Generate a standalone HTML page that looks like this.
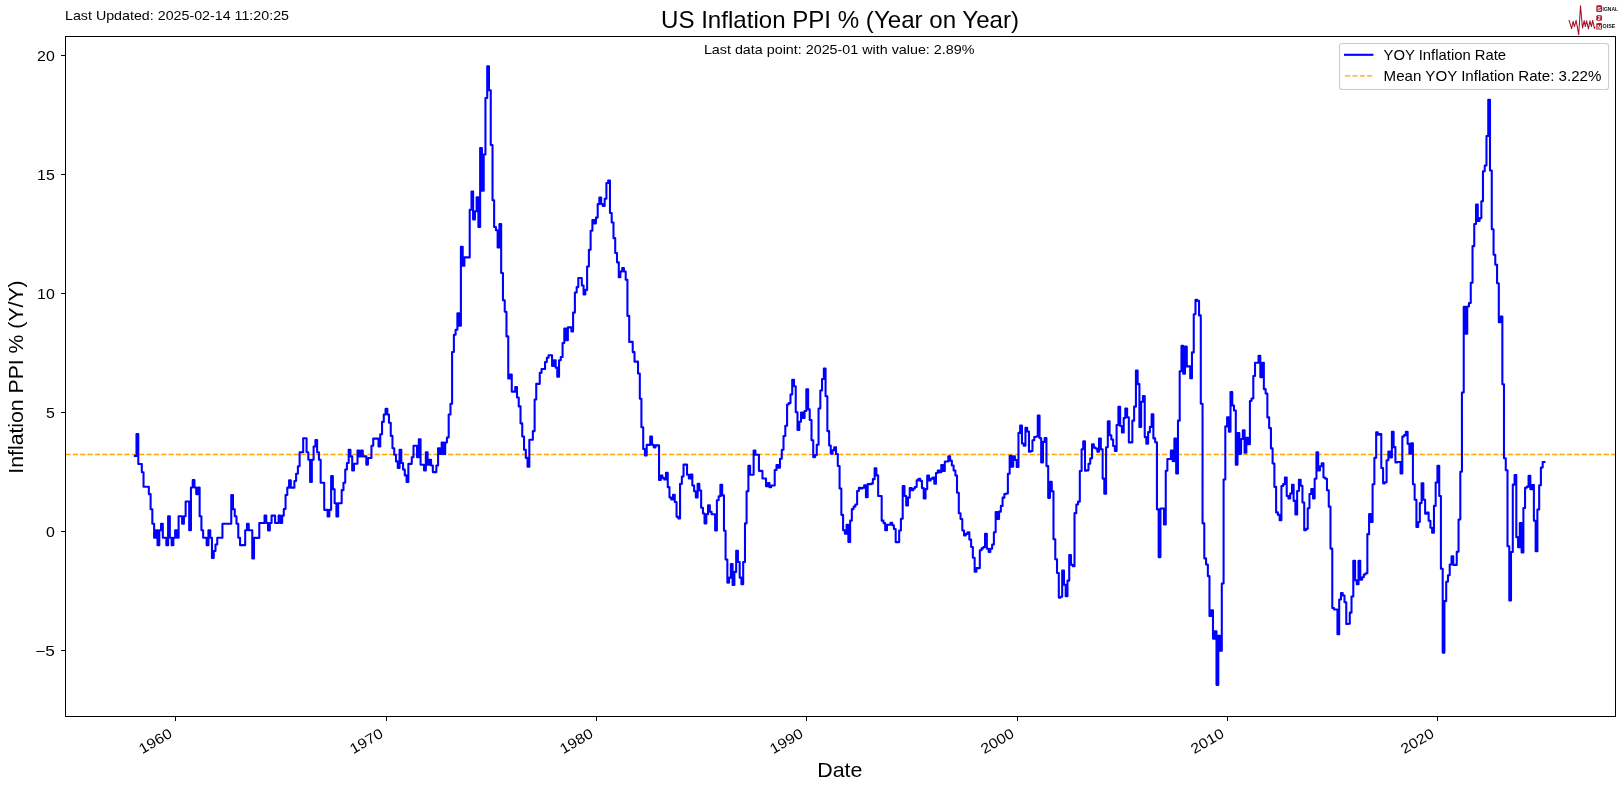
<!DOCTYPE html>
<html><head><meta charset="utf-8"><title>US Inflation PPI</title>
<style>
html,body{margin:0;padding:0;background:#fff;}
body{width:1624px;height:790px;overflow:hidden;font-family:"Liberation Sans",sans-serif;}
svg{display:block}
text{font-family:"Liberation Sans",sans-serif;fill:#000}
</style></head><body>
<div style="will-change:transform;width:1624px;height:790px"><svg width="1624" height="790" viewBox="0 0 1624 790">
<rect x="0" y="0" width="1624" height="790" fill="#fff"/>
<line x1="65.5" y1="454.50" x2="1615.5" y2="454.50" stroke="#ffa500" stroke-width="1.39" stroke-dasharray="5.14 2.22"/>
<clipPath id="ax"><rect x="66" y="37" width="1549" height="679"/></clipPath>
<path clip-path="url(#ax)" d="M134.89 455.94H136.50V434.05H138.29V464.00H140.01H141.80V472.23H143.53V486.71H145.31H147.10H148.83V494.11H150.61V509.25H152.34V523.73H154.13V537.72H155.91V530.32H157.52V545.13H159.31V530.32H161.04V523.73H162.82V537.72H164.55H166.34V545.13H168.12V516.33H169.85V537.72H171.64V545.13H173.36V537.72H175.15V530.32H176.94V537.72H178.61V516.33H180.39H182.12V523.73H183.91V516.33H185.63V501.52H187.42H189.20V530.32H190.93V487.53H192.72V480.13H194.45V487.53H196.23V494.11H198.02V487.53H199.63V516.33H201.42V530.32H203.14V537.72H204.93H206.66V545.13H208.44V530.32H210.23V537.72H211.96V557.96H213.74V551.05H215.47V544.47H217.26V537.72H219.04H220.65H222.44V523.73H224.17H225.95H227.68H229.47H231.25V494.94H232.98V509.25H234.77V516.33H236.49V523.73H238.28V537.72H240.07V545.13H241.68H243.46H245.19V530.32H246.98V523.73H248.71V530.32H250.49H252.28V558.42H254.00V537.85H255.79H257.52H259.30V523.04H261.09H262.76H264.55V515.63H266.27V523.04H268.06V530.44H269.79V523.04H271.57V515.63H273.36H275.09V523.04H276.87H278.60V515.63H280.39V523.04H282.17V515.63H283.78V509.05H285.57V495.06H287.30V487.66H289.08V480.25H290.81V487.66H292.60H294.38V481.08H296.11V473.67H297.90V466.27H299.62V452.28H301.41H303.19V438.29H304.81H306.59V452.28H308.32V459.68H310.11V481.90H311.83V459.68H313.62V446.52H315.41V439.94H317.13V452.28H318.92V459.68H320.65V482.72H322.43H324.22V509.87H325.83H327.62V516.45H329.35V509.87H331.13V476.14H332.86V489.30H334.64V503.29H336.43V516.45H338.16V503.29H339.94H341.67V490.13H343.46V482.72H345.24V469.56H346.91V462.97H348.70V449.81H350.43V456.39H352.21V470.38H353.94V463.80H355.73H357.51V450.63H359.24V456.39H361.03V450.63H362.75V456.39H364.54H366.32V464.62H367.94V458.04H369.72H371.45V445.70H373.24V438.62H374.96H376.75H378.54V446.58H380.26V434.24H382.05V421.90H383.78V414.49H385.56V408.73H387.35V414.49H388.96V422.72H390.75V435.89H392.47V448.23H394.26V454.81H395.99V461.39H397.77V467.97H399.56V449.87H401.29V463.04H403.07V469.62H404.80V475.38H406.59V481.96H408.37V463.86H409.99H411.77V457.28H413.50V445.76H415.28H417.01V457.28H418.80V439.18H420.58V464.68H422.31H424.10V470.44H425.83V452.34H427.61V464.68H429.40V459.75H431.07V465.51H432.85V472.09H434.58H436.37V465.51H438.09V448.23H439.88V453.99H441.67V442.47H443.39V453.99H445.18V442.47H446.91V437.53H448.69V414.49H450.48V403.80H452.09V352.02H453.88V334.75H455.60V329.81H457.39V313.35H459.12V325.70H460.90V246.71H462.69V265.63H464.42V257.40H466.20H467.93H469.72V209.68H471.50V191.58H473.11V219.56H474.90V211.33H476.63V197.34H478.41V226.96H480.14V147.97H481.93V190.76H483.71V154.56H485.44V97.92H487.23V66.33H488.95V90.19H490.74V144.99H492.53V200.30H494.14V226.96H495.92V230.25H497.65V247.53H499.44V224.00H501.17V273.04H502.95V300.19H504.74V311.71H506.47V336.39H508.25V378.43H509.98V374.48H511.76V391.59H513.55H515.22V387.15H517.01V397.52H518.73V406.40H520.52V423.35H522.25V436.52H524.03V449.68H525.82V457.91H527.55V466.63H529.33V439.81H531.06H532.85V431.09H534.63V399.49H536.24V383.86H538.03H539.76V372.84H541.54V369.05H543.27H545.06V361.97H546.84V357.78H548.57V355.32H550.36H552.08V366.01H553.87V360.25H555.66V367.66H557.27V376.71H559.05V360.25H560.78V356.96H562.57V342.97H564.30V328.66H566.08V340.18H567.87V327.34H569.59H571.38V331.52H573.11V312.59H574.89V292.52H576.68V287.09H578.29V278.04H580.08H581.81V285.44H583.59V294.49H585.32V289.89H587.11V266.47H588.89V249.68H590.62V230.76H592.40V220.06H594.13V223.35H595.92V217.59H597.70V204.10H599.37V197.52H601.16V204.10H602.89V206.08H604.67V198.67H606.40V183.04H608.19V180.57H609.97V212.99H611.70V222.53H613.49V238.16H615.21V252.97H617.00V262.35H618.79V277.21H620.40V271.46H622.18V268.16H623.91V271.46H625.70V279.68H627.43V315.89H629.21V341.88H631.00H632.72V352.09H634.51V361.63H636.24H638.02V373.48H639.81V398.80H641.42V427.27H643.21V448.99H644.94V455.57H646.72V444.87H648.45H650.23V436.64H652.02V444.87H653.75V447.34H655.53V445.37H657.26H659.05V480.08H660.83V475.63H662.45V478.10H664.23V479.42H665.96V472.84H667.75V487.15H669.47V497.52H671.26V499.49H673.04V494.89H674.77V501.96H676.56V516.77H678.29V518.42H680.07V483.86H681.86V476.46H683.53V464.61H685.31H687.04V474.81H688.83V478.43H690.55V474.48H692.34V485.51H694.13V491.27H695.85V497.52H697.64V483.86H699.37V490.44H701.15V507.72H702.94V513.48H704.55V523.35H706.34V514.30H708.07V505.25H709.85V511.83H711.58V514.30H713.36H715.15V530.43H716.88V500.32H718.66V496.20H720.39V484.68H722.18V495.38H723.96V530.76H725.58V559.56H727.36V582.59H729.09V577.66H730.87V564.00H732.60V585.06H734.39V571.90H736.17V550.83H737.90V562.02H739.69V577.66H741.42V584.24H743.20V562.02H744.99V523.35H746.60V491.27H748.39V465.76H750.11V474.81H751.90H753.63V450.62H755.41V454.73H757.20H758.93V470.86H760.71H762.44V478.43H764.23H766.01V486.33H767.68V483.04H769.47V487.15H771.19V485.51H772.98H774.71V469.92H776.49V464.99H778.28V467.78H780.01V458.73H781.79V449.68H783.52V436.02H785.31V425.82H787.09V404.43H788.71V403.11H790.49V394.56H792.22V379.75H794.00V386.33H795.73V412.33H797.52V429.94H799.30V421.71H801.03V412.66H802.82V417.92H804.55V411.01H806.33V389.29H808.12V409.37H809.73V420.06H811.51V440.30H813.24V457.09H815.03V455.11H816.76V444.75H818.54V408.54H820.33V390.44H822.06V378.92H823.84V368.56H825.57V396.20H827.35V431.09H829.14V445.57H830.75V453.80H832.54V450.18H834.27V447.21H836.05V453.99H837.78V466.00H839.57V488.54H841.35V514.87H843.08V530.18H844.87V533.80H846.59V524.75H848.38V542.02H850.16V520.63H851.83V509.11H853.62V506.64H855.35V504.51H857.13V491.01H858.86V487.72H860.65V488.54H862.43V487.72H864.16V485.25H865.95V497.27H867.67V484.10H869.46H871.25V483.61H872.86V479.16H874.64V468.30H876.37V475.38H878.16V495.95H879.89H881.67V520.63H883.46V523.10H885.19V530.18H886.97V524.75H888.70H890.48V522.67H892.27V525.30H893.88V528.92H895.67V542.09H897.40H899.18V530.57H900.91V518.72H902.70V486.14H904.48V496.01H906.21V505.56H907.99V497.66H909.72V488.11H911.51V490.25H913.29V488.61H914.91V486.96H916.69V480.38H918.42V478.73H920.21V480.87H921.93V488.11H923.72V498.48H925.51V489.10H927.23V475.44H929.02V480.38H930.75V478.73H932.53V477.58H934.32V483.67H935.99V472.97H937.77V470.51H939.50V472.15H941.29V465.08H943.02V471.00H944.80V461.46H946.59H948.31V456.19H950.10V460.63H951.83V465.57H953.61V470.51H955.40V475.44H957.01V492.72H958.80V513.29H960.53V519.05H962.31V530.57H964.04V535.51H965.83V533.86H967.61V532.21H969.34V539.62H971.12V547.02H972.85V557.72H974.64V571.71H976.42V568.09H978.04H979.82V550.32H981.55V548.34H983.34V547.02H985.06V533.86H986.85V548.67H988.63V551.96H990.36V548.67H992.15V544.56H993.88V532.21H995.66V512.14H997.45V519.05H999.06V511.64H1000.85V505.89H1002.57V497.66H1004.36V494.04H1006.09V493.54H1007.87V473.80H1009.66V455.70H1011.39V466.75H1013.17V456.21H1014.90V460.00H1016.69V467.08H1018.47V432.85H1020.14V425.44H1021.93V443.54H1023.66V445.68H1025.44V427.91H1027.17V431.53H1028.95V451.77H1030.74V450.95H1032.47V440.25H1034.25V436.96H1035.98V436.47H1037.77V415.57H1039.55V438.11H1041.17V462.47H1042.95V441.90H1044.68V438.11H1046.47V466.09H1048.19V497.85H1049.98V481.88H1051.76V491.26H1053.49V539.18H1055.28V559.25H1057.01V573.07H1058.79V597.59H1060.58V596.77H1062.19V570.44H1063.98V584.76H1065.70V596.28H1067.49V580.64H1069.22V555.14H1071.00V564.68H1072.79V566.33H1074.52V513.15H1076.30V504.43H1078.03V501.63H1079.82V471.02H1081.60V449.30H1083.21V441.40H1085.00V470.70H1086.73V470.37H1088.51V463.78H1090.24V458.35H1092.03V444.37H1093.81V447.66H1095.54V448.48H1097.33V451.77H1099.05V438.61H1100.84V449.30H1102.63V478.59H1104.30V493.73H1106.08V447.33H1107.81V421.33H1109.59V435.32H1111.32V439.43H1113.11V446.01H1114.89V450.95H1116.62V424.95H1118.41V406.85H1120.14V425.94H1121.92V432.52H1123.71V418.04H1125.32V408.49H1127.11V417.21H1128.83V442.39H1130.62V442.35H1132.35V420.63H1134.13V406.64H1135.92V370.44H1137.65V384.10H1139.43V426.88H1141.16V401.71H1142.95V395.95H1144.73V437.09H1146.34V443.67H1148.13V432.15H1149.86V426.88H1151.64V414.38H1153.37V438.40H1155.16V442.19H1156.94V509.37H1158.67V557.09H1160.46V508.54H1162.18H1163.97V524.51H1165.75V470.70H1167.37V459.06H1169.15H1170.88V450.42H1172.67V461.11H1174.39V438.49H1176.18V473.45H1177.97V420.63H1179.69V371.33H1181.48V345.82H1183.21V373.80H1184.99V346.64H1186.78V366.39H1188.45H1190.23V378.24H1191.96V352.40H1193.75V314.23H1195.48V299.75H1197.26V300.90H1199.05V315.38H1200.78V403.75H1202.56V523.35H1204.29V558.40H1206.07V564.49H1207.86V576.09H1209.47V615.91H1211.26V610.32H1212.99V638.62H1214.77V631.38H1216.50V684.86H1218.29V635.82H1220.07V650.63H1221.80V583.49H1223.59V479.42H1225.31V426.39H1227.10V417.34H1228.88V431.66H1230.50V392.16H1232.28V405.49H1234.01V410.43H1235.80V464.73H1237.52V433.14H1239.31V453.87H1241.10V439.06H1242.82V430.34H1244.61V452.72H1246.34V437.91H1248.12V444.16H1249.91V400.95H1251.52V398.48H1253.31V375.94H1255.03V362.77H1256.82H1258.55V355.70H1260.33V377.09H1262.12V362.77H1263.85V389.10H1265.63V393.54H1267.36V417.40H1269.15V428.10H1270.93V448.34H1272.60V463.48H1274.39V486.90H1276.12V512.40H1277.90V514.87H1279.63V520.30H1281.42V486.08H1283.20V484.10H1284.93V477.52H1286.71V495.95H1288.44V498.42H1290.23V493.48H1292.01V484.76H1293.63V500.89H1295.41V514.38H1297.14V491.01H1298.93V479.82H1300.65V485.75H1302.44V502.53H1304.23V530.18H1305.95V528.86H1307.74V508.29H1309.47V493.97H1311.25V489.04H1313.04V498.42H1314.65V478.67H1316.44V452.34H1318.16V470.44H1319.95V466.33H1321.68V463.37H1323.46V477.52H1325.25V478.67H1326.98V490.19H1328.76V506.64H1330.49V548.61H1332.28V608.04H1334.06V609.52H1335.67H1337.46V634.20H1339.19V599.48H1340.97V593.06H1342.70V595.53H1344.49V602.28H1346.27V624.00H1348.00V623.67H1349.79V612.64H1351.51V596.52H1353.30V560.81H1355.09V580.23H1356.76V584.18H1358.54V560.81H1360.27V579.73H1362.06V577.27H1363.78V574.47H1365.57V573.32H1367.35V534.13H1369.08V514.13H1370.87V522.02H1372.60V484.18H1374.38V457.85H1376.17V432.34H1377.78V434.81H1379.57V433.99H1381.29V468.05H1383.08V483.35H1384.81V482.20H1386.59V460.32H1388.38V451.59H1390.11V457.52H1391.89V431.85H1393.62V447.15H1395.41V462.46H1397.19V461.96H1398.80H1400.59V473.48H1402.32V436.46H1404.10V435.14H1405.83V431.85H1407.62V443.86H1409.40V453.73H1411.13V443.37H1412.92V484.18H1414.64V499.81H1416.43V526.96H1418.22V522.02H1419.83V503.10H1421.61V483.35H1423.34V499.81H1425.13V513.80H1426.86V512.48H1428.64V520.71H1430.43V527.78H1432.15V532.72H1433.94V505.90H1435.67V482.53H1437.45V465.75H1439.24V496.02H1440.91V568.67H1442.70V652.59H1444.42V601.09H1446.21V581.83H1447.94V575.25H1449.72V564.56H1451.51V556.33H1453.24V564.89H1455.02H1456.75V551.72H1458.54V519.56H1460.32V471.83H1461.93V392.48H1463.72V306.91H1465.45V333.73H1467.23V306.58H1468.96V302.96H1470.75V282.78H1472.53V246.09H1474.26V224.04H1476.05V204.62H1477.77V221.08H1479.56V218.11H1481.35V201.33H1482.96V171.33H1484.74V165.57H1486.47V135.95H1488.26V99.75H1489.99V170.51H1491.77V229.30H1493.56V254.81H1495.28V264.68H1497.07V283.28H1498.80V322.21H1500.58V316.46H1502.37V384.25H1503.98V458.30H1505.77V470.32H1507.50V546.18H1509.28V600.48H1511.01V551.94H1512.79V484.63H1514.58V474.92H1516.31V537.13H1518.09V547.33H1519.82V523.14H1521.61V552.43H1523.39V508.00H1525.06V487.76H1526.85V486.61H1528.58V475.75H1530.36V489.24H1532.09V484.96H1533.88V520.67H1535.66V551.28H1537.39V509.48H1539.18V485.29H1540.90V467.52H1542.69V461.92H1544.44" fill="none" stroke="#0000ff" stroke-width="2.08" stroke-linejoin="round" stroke-linecap="square"/>
<g stroke="#000" stroke-width="1.1" fill="none" shape-rendering="crispEdges"><rect x="65.5" y="36.5" width="1550" height="680"/><line x1="60.6" y1="55.5" x2="65.5" y2="55.5"/><line x1="60.6" y1="174.5" x2="65.5" y2="174.5"/><line x1="60.6" y1="293.5" x2="65.5" y2="293.5"/><line x1="60.6" y1="412.5" x2="65.5" y2="412.5"/><line x1="60.6" y1="531.5" x2="65.5" y2="531.5"/><line x1="60.6" y1="650.5" x2="65.5" y2="650.5"/><line x1="175.5" y1="716.5" x2="175.5" y2="721.4"/><line x1="386.5" y1="716.5" x2="386.5" y2="721.4"/><line x1="596.5" y1="716.5" x2="596.5" y2="721.4"/><line x1="806.5" y1="716.5" x2="806.5" y2="721.4"/><line x1="1017.5" y1="716.5" x2="1017.5" y2="721.4"/><line x1="1227.5" y1="716.5" x2="1227.5" y2="721.4"/><line x1="1437.5" y1="716.5" x2="1437.5" y2="721.4"/></g>
<text x="54.8" y="60.6" font-size="14.2" text-anchor="end" textLength="17.7" lengthAdjust="spacingAndGlyphs">20</text><text x="54.8" y="179.6" font-size="14.2" text-anchor="end" textLength="17.7" lengthAdjust="spacingAndGlyphs">15</text><text x="54.8" y="298.6" font-size="14.2" text-anchor="end" textLength="17.7" lengthAdjust="spacingAndGlyphs">10</text><text x="54.8" y="417.6" font-size="14.2" text-anchor="end" textLength="8.85" lengthAdjust="spacingAndGlyphs">5</text><text x="54.8" y="536.6" font-size="14.2" text-anchor="end" textLength="8.85" lengthAdjust="spacingAndGlyphs">0</text><text x="54.8" y="655.6" font-size="14.2" text-anchor="end" textLength="19.6" lengthAdjust="spacingAndGlyphs">−5</text><text transform="translate(173.1,736.4) rotate(-30)" font-size="14.2" text-anchor="end" textLength="35.5" lengthAdjust="spacingAndGlyphs">1960</text><text transform="translate(384.1,736.4) rotate(-30)" font-size="14.2" text-anchor="end" textLength="35.5" lengthAdjust="spacingAndGlyphs">1970</text><text transform="translate(594.1,736.4) rotate(-30)" font-size="14.2" text-anchor="end" textLength="35.5" lengthAdjust="spacingAndGlyphs">1980</text><text transform="translate(804.1,736.4) rotate(-30)" font-size="14.2" text-anchor="end" textLength="35.5" lengthAdjust="spacingAndGlyphs">1990</text><text transform="translate(1015.1,736.4) rotate(-30)" font-size="14.2" text-anchor="end" textLength="35.5" lengthAdjust="spacingAndGlyphs">2000</text><text transform="translate(1225.1,736.4) rotate(-30)" font-size="14.2" text-anchor="end" textLength="35.5" lengthAdjust="spacingAndGlyphs">2010</text><text transform="translate(1435.1,736.4) rotate(-30)" font-size="14.2" text-anchor="end" textLength="35.5" lengthAdjust="spacingAndGlyphs">2020</text><text x="840" y="27.9" font-size="23.6" text-anchor="middle" textLength="358" lengthAdjust="spacingAndGlyphs">US Inflation PPI % (Year on Year)</text>
<text x="65" y="20" font-size="12.8" textLength="224" lengthAdjust="spacingAndGlyphs">Last Updated: 2025-02-14 11:20:25</text>
<text x="703.9" y="53.8" font-size="12.8" textLength="270.5" lengthAdjust="spacingAndGlyphs">Last data point: 2025-01 with value: 2.89%</text>
<text x="817.2" y="777" font-size="19.8" textLength="45.2" lengthAdjust="spacingAndGlyphs">Date</text>
<text transform="translate(23.4,377) rotate(-90)" font-size="19.8" text-anchor="middle" textLength="193.3" lengthAdjust="spacingAndGlyphs">Inflation PPI % (Y/Y)</text>
<rect x="1339.5" y="43.5" width="269.1" height="46" rx="2.8" ry="2.8" fill="#fff" fill-opacity="0.8" stroke="#cccccc" stroke-width="1.1"/>
<line x1="1344.0" y1="54.8" x2="1373.4" y2="54.8" stroke="#0000ff" stroke-width="2.08"/>
<line x1="1345.06" y1="75.9" x2="1372.84" y2="75.9" stroke="#ffa500" stroke-width="1.39" stroke-dasharray="5.14 2.22"/>
<text x="1383.6" y="59.8" font-size="14.2" textLength="122.5" lengthAdjust="spacingAndGlyphs">YOY Inflation Rate</text>
<text x="1383.6" y="81.0" font-size="14.2" textLength="217.8" lengthAdjust="spacingAndGlyphs">Mean YOY Inflation Rate: 3.22%</text>
<g id="logo">
<path d="M1569.1 20.3 L1571.6 28.6 L1573.1 21.3 L1574.4 26.6 L1576.1 20.3 L1578.7 34.7 L1580.5 5.7 L1582.5 28.1 L1584.2 20.5 L1585.3 26.6 L1586.6 20.8 L1588.4 28.9 L1589.9 20.8 L1591.4 26.6 L1592.7 20.3 L1594.4 28.4 L1594.9 27.3" fill="none" stroke="#a01228" stroke-width="1.05" stroke-linejoin="round" stroke-linecap="round"/>
<rect x="1596.3" y="5.2" width="5.7" height="6.9" rx="1.2" fill="#b0182d"/>
<rect x="1596.3" y="15.2" width="5.7" height="5.6" rx="1.2" fill="#b0182d"/>
<rect x="1596.3" y="23.1" width="5.7" height="6.5" rx="1.2" fill="#b0182d"/>
<text x="1599.15" y="11" font-size="5.6" font-weight="bold" text-anchor="middle" style="fill:#fff">S</text>
<text x="1599.15" y="20.2" font-size="5.2" font-weight="bold" text-anchor="middle" style="fill:#fff">2</text>
<text x="1599.15" y="28.6" font-size="5.4" font-weight="bold" text-anchor="middle" style="fill:#fff">N</text>
<text x="1602.6" y="11" font-size="5" font-weight="bold" textLength="15.4" lengthAdjust="spacingAndGlyphs" style="fill:#111">IGNAL</text>
<text x="1602.6" y="28.3" font-size="5" font-weight="bold" textLength="12.8" lengthAdjust="spacingAndGlyphs" style="fill:#111">OISE</text>
</g>
</svg></div></body></html>
